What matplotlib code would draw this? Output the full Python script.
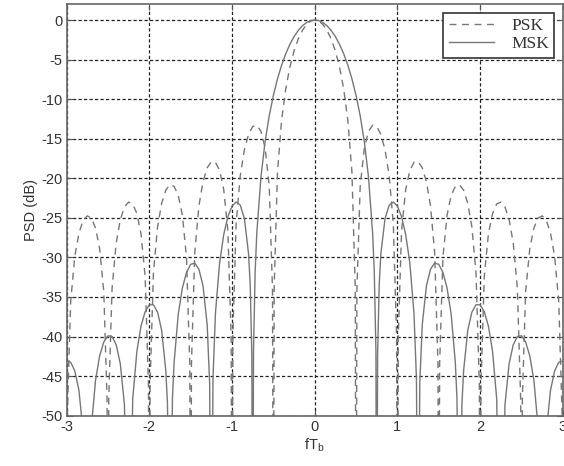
import matplotlib
matplotlib.use('Agg')
import matplotlib.pyplot as plt

# values, PSD in dB (nulls go below the axis)
psk_f = [-3.00, -2.99, -2.95, -2.90, -2.85, -2.80, -2.75, -2.70, -2.65, -2.60, -2.55, -2.51,
         -2.50, -2.49, -2.45, -2.40, -2.35, -2.30, -2.25, -2.20, -2.15, -2.10, -2.05, -2.01,
         -2.00, -1.99, -1.95, -1.90, -1.85, -1.80, -1.75, -1.70, -1.65, -1.60, -1.55, -1.51,
         -1.50, -1.49, -1.45, -1.40, -1.35, -1.30, -1.25, -1.20, -1.15, -1.10, -1.05, -1.01,
         -1.00, -0.99, -0.95, -0.90, -0.85, -0.80, -0.75, -0.70, -0.65, -0.60, -0.55, -0.51,
         -0.50, -0.49, -0.45, -0.40, -0.35, -0.30, -0.25, -0.20, -0.15, -0.10, -0.05,
         0.00,
         0.05, 0.10, 0.15, 0.20, 0.25, 0.30, 0.35, 0.40, 0.45, 0.49, 0.50,
         0.51, 0.55, 0.60, 0.65, 0.70, 0.75, 0.80, 0.85, 0.90, 0.95, 0.99, 1.00,
         1.01, 1.05, 1.10, 1.15, 1.20, 1.25, 1.30, 1.35, 1.40, 1.45, 1.49, 1.50,
         1.51, 1.55, 1.60, 1.65, 1.70, 1.75, 1.80, 1.85, 1.90, 1.95, 1.99, 2.00,
         2.01, 2.05, 2.10, 2.15, 2.20, 2.25, 2.30, 2.35, 2.40, 2.45, 2.49, 2.50,
         2.51, 2.55, 2.60, 2.65, 2.70, 2.75, 2.80, 2.85, 2.90, 2.95, 2.99, 3.00]
psk_db = [-80, -49.52, -35.56, -29.83, -26.90, -25.34, -24.75, -25.03, -26.27, -28.88, -34.29, -48.00,
          -80, -47.93, -33.95, -28.18, -25.23, -23.63, -23.01, -23.25, -24.45, -27.02, -32.40, -46.07,
          -80, -45.98, -31.96, -26.15, -23.15, -21.50, -20.82, -21.01, -22.15, -24.66, -29.97, -43.59,
          -80, -43.47, -29.39, -23.50, -20.41, -18.68, -17.90, -17.98, -19.02, -21.41, -26.59, -40.09,
          -80, -39.92, -25.72, -19.66, -16.39, -14.46, -13.46, -13.30, -14.06, -16.14, -20.97, -34.16,
          -80, -33.81, -19.23, -12.62, -8.69, -5.94, -3.92, -2.42, -1.33, -0.58, -0.14,
          0.0,
          -0.14, -0.58, -1.33, -2.42, -3.92, -5.94, -8.69, -12.62, -19.23, -33.81, -80,
          -34.16, -20.97, -16.14, -14.06, -13.30, -13.46, -14.46, -16.39, -19.66, -25.72, -39.92, -80,
          -40.09, -26.59, -21.41, -19.02, -17.98, -17.90, -18.68, -20.41, -23.50, -29.39, -43.47, -80,
          -43.59, -29.97, -24.66, -22.15, -21.01, -20.82, -21.50, -23.15, -26.15, -31.96, -45.98, -80,
          -46.07, -32.40, -27.02, -24.45, -23.25, -23.01, -23.63, -25.23, -28.18, -33.95, -47.93, -80,
          -48.00, -34.29, -28.88, -26.27, -25.03, -24.75, -25.34, -26.90, -29.83, -35.56, -49.52, -80]

msk_f = [-3.00, -2.95, -2.90, -2.85, -2.80, -2.75, -2.70, -2.65, -2.60, -2.55, -2.50, -2.45,
         -2.40, -2.35, -2.30, -2.25, -2.20, -2.15, -2.10, -2.05, -2.00, -1.95, -1.90, -1.85,
         -1.80, -1.78, -1.75, -1.72, -1.70, -1.65, -1.60, -1.55, -1.50, -1.45, -1.40, -1.35,
         -1.30, -1.27, -1.25, -1.23, -1.20, -1.15, -1.10, -1.05, -1.00, -0.95, -0.90, -0.85,
         -0.80, -0.78, -0.76, -0.75, -0.74, -0.72, -0.70, -0.65, -0.60, -0.55, -0.50, -0.45,
         -0.40, -0.35, -0.30, -0.25, -0.20, -0.15, -0.10, -0.05,
         0.00,
         0.05, 0.10, 0.15, 0.20, 0.25, 0.30, 0.35, 0.40, 0.45, 0.50, 0.55, 0.60,
         0.65, 0.70, 0.72, 0.74, 0.75, 0.76, 0.78, 0.80, 0.85, 0.90, 0.95, 1.00,
         1.05, 1.10, 1.15, 1.20, 1.23, 1.25, 1.27, 1.30, 1.35, 1.40, 1.45, 1.50,
         1.55, 1.60, 1.65, 1.70, 1.72, 1.75, 1.78, 1.80, 1.85, 1.90, 1.95, 2.00,
         2.05, 2.10, 2.15, 2.20, 2.25, 2.30, 2.35, 2.40, 2.45, 2.50, 2.55, 2.60,
         2.65, 2.70, 2.75, 2.80, 2.85, 2.90, 2.95, 3.00]
msk_db = [-43.11, -43.25, -44.35, -46.82, -52.10, -80, -51.46, -45.55, -42.44, -40.70, -39.91, -39.99,
          -41.04, -43.44, -48.65, -80, -47.87, -41.88, -38.69, -36.86, -35.99, -35.98, -36.92, -39.22,
          -44.32, -48.47, -80, -47.86, -43.31, -37.20, -33.87, -31.90, -30.88, -30.71, -31.49, -33.61,
          -38.51, -45.93, -80, -45.35, -37.06, -30.71, -27.12, -24.86, -23.52, -23.00, -23.40, -25.09,
          -29.51, -33.37, -42.36, -80, -41.84, -31.81, -26.90, -19.82, -15.39, -12.12, -9.54, -7.44,
          -5.70, -4.26, -3.07, -2.10, -1.33, -0.74, -0.33, -0.08,
          0.0,
          -0.08, -0.33, -0.74, -1.33, -2.10, -3.07, -4.26, -5.70, -7.44, -9.54, -12.12, -15.39,
          -19.82, -26.90, -31.81, -41.84, -80, -42.36, -33.37, -29.51, -25.09, -23.40, -23.00, -23.52,
          -24.86, -27.12, -30.71, -37.06, -45.35, -80, -45.93, -38.51, -33.61, -31.49, -30.71, -30.88,
          -31.90, -33.87, -37.20, -43.31, -47.86, -80, -48.47, -44.32, -39.22, -36.92, -35.98, -35.99,
          -36.86, -38.69, -41.88, -47.87, -80, -48.65, -43.44, -41.04, -39.99, -39.91, -40.70, -42.44,
          -45.55, -51.46, -80, -52.10, -46.82, -44.35, -43.25, -43.11]

x_ticks = [-3, -2, -1, 0, 1, 2, 3]
y_ticks = [0, -5, -10, -15, -20, -25, -30, -35, -40, -45, -50]


def build_psd_chart():
    plt.rcParams['font.family'] = ['Liberation Sans', 'DejaVu Sans']
    plt.rcParams['mathtext.default'] = 'regular'
    plt.rcParams['axes.unicode_minus'] = False

    fig = plt.figure(figsize=(5.64, 4.66), dpi=100)
    ax = fig.add_axes([0.118, 0.108, 0.880, 0.883])

    line_col = '#777777'
    ax.plot(psk_f, psk_db, color=line_col, linewidth=1.0, linestyle=(0, (5, 4)), label='PSK')
    ax.plot(msk_f, msk_db, color=line_col, linewidth=1.0, label='MSK')

    ax.set_xlim(-3, 3)
    ax.set_ylim(-50, 2)
    ax.set_xticks(x_ticks)
    ax.set_yticks(y_ticks)
    ax.grid(True, color='#222222', linestyle=(0, (2.6, 1.8)), linewidth=0.9)
    ax.tick_params(direction='in', length=4, width=0.8, top=True, right=True,
                   labelsize=10.5, pad=3, colors='#555555', labelcolor='#333333')
    for s in ax.spines.values():
        s.set_color('#666666')
        s.set_linewidth(1.2)

    ax.set_xlabel('fT$_b$', fontsize=10.5, color='#333333', labelpad=2)
    ax.set_ylabel('PSD (dB)', fontsize=10.5, color='#333333', labelpad=2)

    leg = ax.legend(loc='upper right', fancybox=False, framealpha=1, borderpad=0.3,
                    handlelength=2.6, handletextpad=1.0, labelspacing=0.12,
                    borderaxespad=0.5, prop={'family': 'Liberation Serif', 'size': 12.5})
    leg.get_frame().set_edgecolor('#333333')
    leg.get_frame().set_linewidth(1.2)
    for t in leg.get_texts():
        t.set_color('#333333')

    fig.savefig('out.png', dpi=100)


if __name__ == "__main__":
    build_psd_chart()
